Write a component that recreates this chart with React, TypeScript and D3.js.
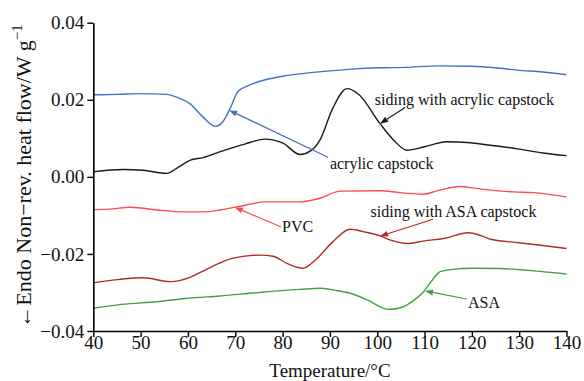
import { useEffect, useRef } from 'react'
import * as d3 from 'd3'

// [temperature °C, heat flow W/g]
const acrylicCapstock: [number, number][] = [
  [40, 0.0213], [45, 0.0214], [50, 0.0216], [55.5, 0.0214], [58, 0.0205], [60.4, 0.019],
  [63.2, 0.0155], [65.8, 0.0131], [67.5, 0.0145], [69, 0.018], [70.6, 0.0222], [73, 0.0238],
  [75.2, 0.0248], [80, 0.0261], [86.4, 0.0271], [94, 0.0279], [100.6, 0.0283], [106, 0.0284],
  [113, 0.0288], [120, 0.0287], [125, 0.0283], [129.6, 0.0277], [135, 0.0272], [140, 0.0265],
]
const sidingAcrylic: [number, number][] = [
  [40, 0.0013], [46.3, 0.0019], [50.5, 0.0017], [55.5, 0.0009], [58, 0.0025], [60.4, 0.0043],
  [63.2, 0.005], [67, 0.0066], [72, 0.0085], [76.3, 0.0098], [80, 0.0088], [83.7, 0.0058],
  [86, 0.0068], [88, 0.0098], [90.5, 0.0175], [93.6, 0.0229], [96, 0.0215], [100.6, 0.0138],
  [103.5, 0.0095], [106.3, 0.0069], [110, 0.0078], [114.7, 0.0091], [119, 0.0089], [123.9, 0.0082],
  [130, 0.0072], [135, 0.0062], [140, 0.0055],
]
const pvc: [number, number][] = [
  [40, -0.0085], [44, -0.0083], [47.8, -0.0079], [53.4, -0.0086], [59, -0.0091], [63, -0.0091],
  [66.8, -0.0086], [70.3, -0.0078], [76.7, -0.0065], [83.7, -0.0065], [88, -0.0055], [92.2, -0.0037],
  [100.6, -0.0036], [104.8, -0.0041], [109.7, -0.0045], [113, -0.0035], [117.5, -0.0025],
  [121, -0.003], [124.5, -0.0035], [128.9, -0.0039], [133, -0.0041], [140, -0.0052],
]
const sidingASA: [number, number][] = [
  [40, -0.0275], [45.6, -0.0266], [50.6, -0.0262], [56.2, -0.0272], [60.4, -0.0261], [62.6, -0.0248],
  [66.8, -0.0223], [69.5, -0.0211], [75.2, -0.0203], [78, -0.0206], [81, -0.0225], [84.3, -0.0237],
  [87, -0.0215], [90.5, -0.017], [94.3, -0.0136], [97, -0.0142], [100.6, -0.0153], [103, -0.0165],
  [106.3, -0.0173], [110, -0.0166], [114, -0.016], [119.3, -0.0145], [122, -0.0153], [124, -0.0162],
  [130, -0.0171], [135, -0.0178], [140, -0.0186],
]
const asa: [number, number][] = [
  [40, -0.0341], [46, -0.0331], [53.4, -0.0324], [60, -0.0315], [66.8, -0.0309], [75, -0.03],
  [83.7, -0.0292], [87.9, -0.0289], [91, -0.0294], [94.3, -0.0302], [98, -0.032], [102.4, -0.0344],
  [104.5, -0.0341], [106.3, -0.0332], [108, -0.0318], [109.8, -0.0298], [111.5, -0.027],
  [113.3, -0.0246], [116, -0.024], [120, -0.0237], [126, -0.0238], [133, -0.0244], [140, -0.0252],
]

const seriesNames = ['acrylic capstock', 'siding with acrylic capstock', 'PVC', 'siding with ASA capstock', 'ASA']
const seriesData = [acrylicCapstock, sidingAcrylic, pvc, sidingASA, asa]
const seriesColors = ['#4472C4', '#1a1a1a', '#FF4B4B', '#B02C2C', '#42A042']

// label anchor, arrow tail and arrow head in data coords
const labelAt: [number, number][] = [[90, 0.0021], [99.5, 0.0186], [79.9, -0.0143], [98.6, -0.0104], [119.2, -0.034]]
const arrowFrom: [number, number][] = [[89.6, 0.0051], [105.9, 0.018], [79.7, -0.013], [111.8, -0.011], [118.9, -0.0317]]
const arrowTo: [number, number][] = [[68.7, 0.0173], [100.6, 0.0138], [69.9, -0.0079], [100.6, -0.0154], [110.1, -0.0296]]

const xTicks = [40, 50, 60, 70, 80, 90, 100, 110, 120, 130, 140]
const yTicks = [-0.04, -0.02, 0, 0.02, 0.04]

const W = 584
const H = 381
const FONT = '"Liberation Serif", "DejaVu Serif", serif'

const App = () => {
  const svgRef = useRef<SVGSVGElement>(null)

  useEffect(() => {
    document.body.style.margin = '0'
    if (!svgRef.current) return
    const svg = d3.select(svgRef.current)
    svg.selectAll('*').remove()

    const x = d3.scaleLinear().domain([40, 140]).range([93.3, 566.5])
    const y = d3.scaleLinear().domain([-0.04, 0.04]).range([331, 22.7])

    const line = d3
      .line<[number, number]>()
      .x(d => x(d[0]))
      .y(d => y(d[1]))
      .curve(d3.curveMonotoneX)

    seriesData.forEach((s, i) => {
      svg
        .append('path')
        .datum(s)
        .attr('d', line)
        .attr('fill', 'none')
        .attr('stroke', seriesColors[i])
        .attr('stroke-width', 1.4)
    })

    // x axis
    const xAxis = svg
      .append('g')
      .attr('transform', `translate(0,${y(-0.04)})`)
      .call(d3.axisBottom(x).tickValues(xTicks).tickSize(6).tickSizeOuter(0).tickFormat(d3.format('d')))
    xAxis.select('.domain').attr('stroke-width', 1.6)
    xAxis.selectAll('.tick line').attr('stroke-width', 1.4)
    xAxis
      .selectAll('.tick text')
      .attr('dy', '0.72em')
      .attr('y', 4)
      .style('font-family', FONT)
      .style('font-size', '19px')
      .style('fill', '#111')

    // y axis
    const fmt = (v: number) => (v < 0 ? '\u2212' : '') + Math.abs(v).toFixed(2)
    const yAxis = svg
      .append('g')
      .attr('transform', `translate(${x(40)},0)`)
      .call(d3.axisLeft(y).tickValues(yTicks).tickSize(6).tickSizeOuter(0).tickFormat(d => fmt(+d)))
    yAxis.select('.domain').attr('stroke-width', 1.6)
    yAxis.selectAll('.tick line').attr('stroke-width', 1.4)
    yAxis
      .selectAll('.tick text')
      .attr('x', -9)
      .style('font-family', FONT)
      .style('font-size', '19px')
      .style('fill', '#111')

    // axis titles
    svg
      .append('text')
      .attr('x', 330)
      .attr('y', 377)
      .attr('text-anchor', 'middle')
      .style('font-family', FONT)
      .style('font-size', '19px')
      .style('fill', '#111')
      .text('Temperature/°C')

    const yl = svg
      .append('text')
      .attr('transform', `translate(31,${176}) rotate(-90)`)
      .attr('text-anchor', 'middle')
      .style('font-family', FONT)
      .style('font-size', '22px')
      .style('fill', '#111')
    yl.append('tspan').text('\u2190Endo  Non\u2212rev. heat flow/W g')
    yl.append('tspan').attr('dy', -9).style('font-size', '15px').text('\u22121')

    // annotations
    seriesNames.forEach((name, i) => {
      const c = seriesColors[i]
      const [x0, y0] = [x(arrowFrom[i][0]), y(arrowFrom[i][1])]
      const [x1, y1] = [x(arrowTo[i][0]), y(arrowTo[i][1])]
      const ang = Math.atan2(y1 - y0, x1 - x0)
      const len = 8
      const wd = 3
      const bx = x1 - len * Math.cos(ang)
      const by = y1 - len * Math.sin(ang)
      svg
        .append('line')
        .attr('x1', x0)
        .attr('y1', y0)
        .attr('x2', bx)
        .attr('y2', by)
        .attr('stroke', c)
        .attr('stroke-width', 1.2)
      svg
        .append('path')
        .attr(
          'd',
          `M${x1},${y1}L${bx + wd * Math.sin(ang)},${by - wd * Math.cos(ang)}L${bx - wd * Math.sin(ang)},${by + wd * Math.cos(ang)}Z`
        )
        .attr('fill', c)

      svg
        .append('text')
        .attr('x', x(labelAt[i][0]))
        .attr('y', y(labelAt[i][1]))
        .style('font-family', FONT)
        .style('font-size', '16px')
        .style('fill', '#111')
        .text(name)
    })
  }, [])

  return <svg ref={svgRef} width={W} height={H} style={{ display: 'block', background: '#fff' }} />
}

export default App
